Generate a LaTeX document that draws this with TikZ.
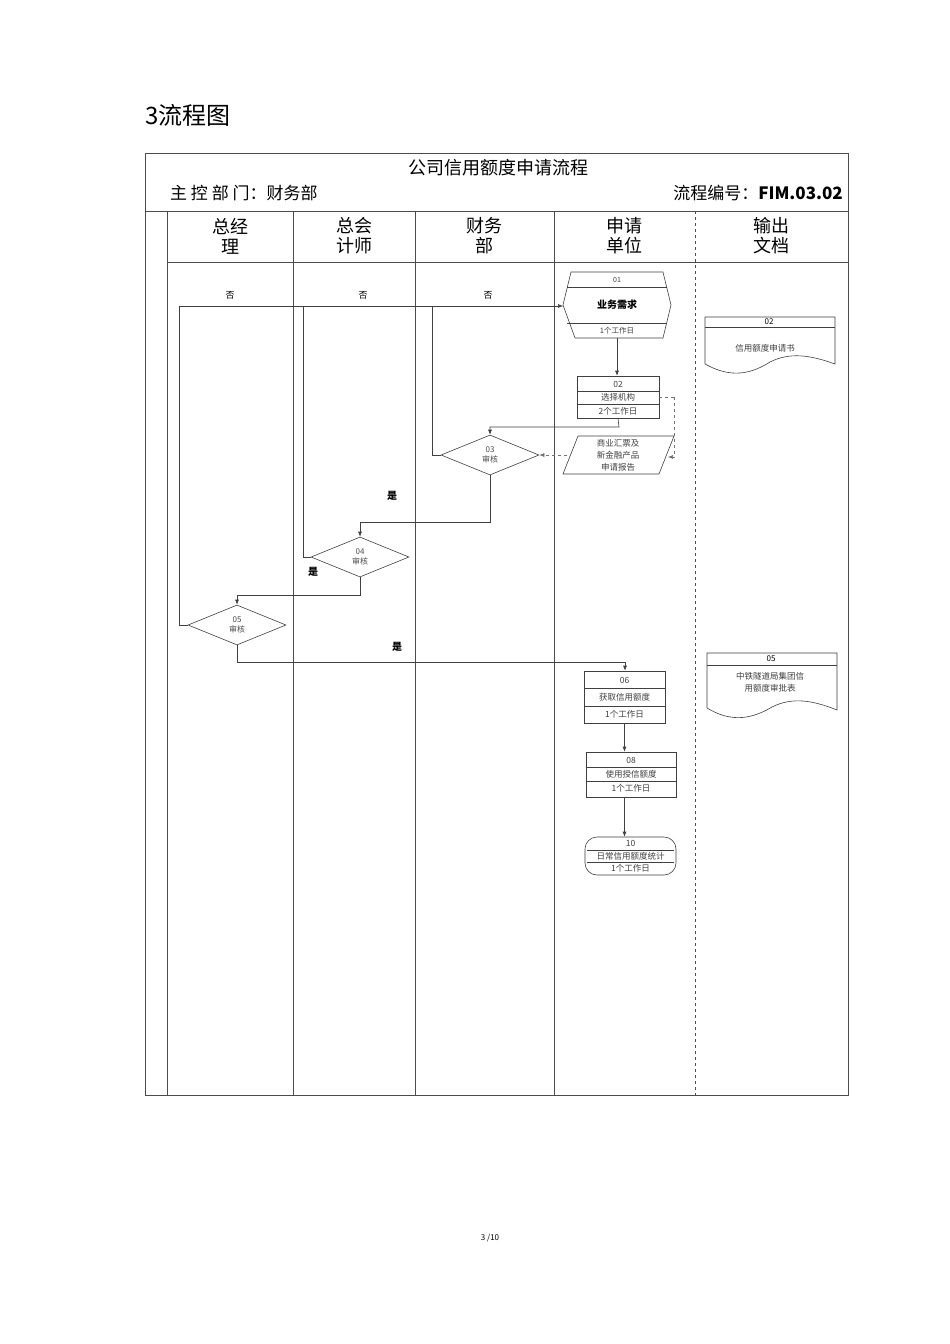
\documentclass[tikz,border=0pt]{standalone}
\usepackage{fontspec}
\setmainfont{Noto Sans CJK SC}
\usetikzlibrary{shapes.geometric,arrows.meta}
\begin{document}
\begin{tikzpicture}[x=1pt,y=-1pt,
  lane/.style={draw=black!70,line width=0.6pt},
  flow/.style={draw=black!75,line width=0.6pt,-{Latex[length=5pt,width=4pt]}},
  plain/.style={draw=black!75,line width=0.6pt},
  dflow/.style={draw=black!55,dashed,line width=0.6pt,-{Latex[length=5pt,width=4pt]}},
  box/.style={draw=black!75,line width=0.6pt,inner sep=0pt},
  dia/.style={diamond,draw=black!75,line width=0.6pt,shape aspect=2.45,minimum width=98pt,minimum height=40pt,inner sep=0pt,align=center,font=\fontsize{8}{10}\selectfont,text=black!70},
  sm/.style={font=\fontsize{8.5}{10}\selectfont,text=black!75,inner sep=0pt},
  hd/.style={font=\fontsize{18}{20}\selectfont,align=center,inner sep=0pt},
  lbl/.style={font=\bfseries\fontsize{10}{12}\selectfont,inner sep=0pt}]
\useasboundingbox (0,0) rectangle (950,1344);
\fill[white] (0,0) rectangle (950,1344);
\node[anchor=west,font=\fontsize{24}{26}\selectfont,inner sep=0pt] (ttl) at (145,115) {3流程图};
\node[font=\fontsize{8}{10}\selectfont,inner sep=0pt] (pg) at (490,1238) {3 /10};
% frame
\draw[lane] (145,153) rectangle (848,1095);
\draw[lane] (145,211) -- (848,211);
\draw[lane] (167,262) -- (848,262);
\draw[lane] (167,211) -- (167,1095);
\draw[lane] (293,211) -- (293,1095);
\draw[lane] (415,211) -- (415,1095);
\draw[lane] (554,211) -- (554,1095);
\draw[lane,dashed] (695,211) -- (695,1095);
\node[font=\fontsize{18}{20}\selectfont,inner sep=0pt] (t1) at (498,168) {公司信用额度申请流程};
\node[anchor=west,font=\fontsize{17}{20}\selectfont,inner sep=0pt] (t2) at (170,193) {主 控 部 门：财务部};
\node[anchor=east,font=\fontsize{17}{20}\selectfont,inner sep=0pt] (t3) at (843,193) {流程编号：\textbf{FIM.03.02}};
\node[hd] (h1) at (230,236) {总经\\理};
\node[hd] (h2) at (354,236) {总会\\计师};
\node[hd] (h3) at (484,236) {财务\\部};
\node[hd] (h4) at (624,236) {申请\\单位};
\node[hd] (h5) at (771,236) {输出\\文档};
% node 01 hexagon
\draw[plain] (571,272) -- (663,272) -- (671,305) -- (663,338) -- (575,338) -- (563,305) -- cycle;
\draw[plain] (567,287) -- (667,287) (567,323) -- (667,323);
\node[minimum width=108pt,minimum height=66pt,inner sep=0pt] (n01) at (617,305) {};
\node[sm,font=\fontsize{7}{8}\selectfont] at (617,279.5) {01};
\node[font=\bfseries\fontsize{10}{12}\selectfont,inner sep=0pt] at (617,305) {业务需求};
\node[sm,font=\fontsize{7.5}{8}\selectfont] at (617,331) {1个工作日};
% node 02
\node[box,minimum width=82pt,minimum height=42pt] (n02) at (618,397) {};
\draw[plain] (577,391) -- (659,391) (577,404) -- (659,404);
\node[sm] at (618,384) {02};
\node[sm] at (618,397.5) {选择机构};
\node[sm] at (618,411) {2个工作日};
% parallelogram
\draw[plain] (578,436) -- (674,436) -- (659,474) -- (563,474) -- cycle;
\node[minimum width=96pt,minimum height=38pt,inner sep=0pt] (rep) at (618,455) {};
\node[sm,align=center,font=\fontsize{8.5}{12}\selectfont] at (618,455) {商业汇票及\\新金融产品\\申请报告};
% diamonds
\node[dia] (d03) at (490,455) {03\\审核};
\node[dia] (d04) at (360,557) {04\\审核};
\node[dia] (d05) at (237,625) {05\\审核};
% 06
\node[box,minimum width=81pt,minimum height=52pt] (n06) at (624.5,697) {};
\draw[plain] (584,688) -- (665,688) (584,706) -- (665,706);
\node[sm] at (624.5,680) {06};
\node[sm] at (624.5,697) {获取信用额度};
\node[sm] at (624.5,714) {1个工作日};
% 08
\node[box,minimum width=90pt,minimum height=45pt] (n08) at (631,774.5) {};
\draw[plain] (586,767) -- (676,767) (586,781) -- (676,781);
\node[sm] at (631,760) {08};
\node[sm] at (631,774) {使用授信额度};
\node[sm] at (631,788) {1个工作日};
% 10
\node[box,rounded corners=12pt,minimum width=91pt,minimum height=38pt] (n10) at (630.5,856) {};
\draw[plain] (587,850) -- (674,850) (587,862) -- (674,862);
\node[sm] at (630.5,843.5) {10};
\node[sm] at (630.5,856) {日常信用额度统计};
\node[sm] at (630.5,868.5) {1个工作日};
% documents
\draw[plain] (705,317) -- (835,317) -- (835,364) .. controls (810,355) and (790,352) .. (770,362) .. controls (745,378) and (725,375) .. (705,364) -- cycle;
\draw[plain] (705,327) -- (835,327);
\node[minimum width=130pt,minimum height=56pt,inner sep=0pt] (doc02) at (770,345) {};
\node[sm,text=black,font=\fontsize{8}{10}\selectfont] at (769,322) {02};
\node[sm] at (765,348) {信用额度申请书};
\draw[plain] (707,653) -- (837,653) -- (837,710) .. controls (812,700) and (792,697) .. (772,707) .. controls (747,722) and (727,720) .. (707,708) -- cycle;
\draw[plain] (707,665) -- (837,665);
\node[minimum width=130pt,minimum height=65pt,inner sep=0pt] (doc05) at (772,685) {};
\node[sm,text=black,font=\fontsize{8}{10}\selectfont] at (771,659) {05};
\node[sm,align=center,font=\fontsize{8.5}{12}\selectfont] at (770,682) {中铁隧道局集团信\\用额度审批表};
% connectors
\draw[flow] (n01.south) -- (n02.north -| n01.south);
\draw[flow] (n02.south) -- (619,427) -- (490,427) -- (d03.north);
\draw[dashed,draw=black!55,line width=0.6pt] (n02.east) -- (674,397);
\draw[dflow] (674,397) -- (674,457) -- (668,457);
\draw[dflow] (567,455) -- (d03.east);
\draw[plain] (d03.west) -- (432,455) -- (432,306);
\draw[plain] (d04.west) -- (303,557) -- (303,306);
\draw[plain] (d05.west) -- (179,625) -- (179,306);
\draw[flow] (179,306) -- (563,306);
\draw[flow] (d03.south) -- (490,522) -- (360,522) -- (d04.north);
\draw[flow] (d04.south) -- (360,595) -- (237,595) -- (d05.north);
\draw[flow] (d05.south) -- (237,662) -- (625,662) -- (n06.north -| 625,0);
\draw[flow] (n06.south) -- (n08.north -| n06.south);
\draw[flow] (n08.south -| n06.south) -- (n10.north -| n06.south);
\node[lbl,font=\fontsize{9}{10}\selectfont] at (230,295) {否};
\node[lbl,font=\fontsize{9}{10}\selectfont] at (363,295) {否};
\node[lbl,font=\fontsize{9}{10}\selectfont] at (488,295) {否};
\node[lbl] at (392,496) {是};
\node[lbl] at (313,572) {是};
\node[lbl] at (397,647) {是};
\end{tikzpicture}
\end{document}
